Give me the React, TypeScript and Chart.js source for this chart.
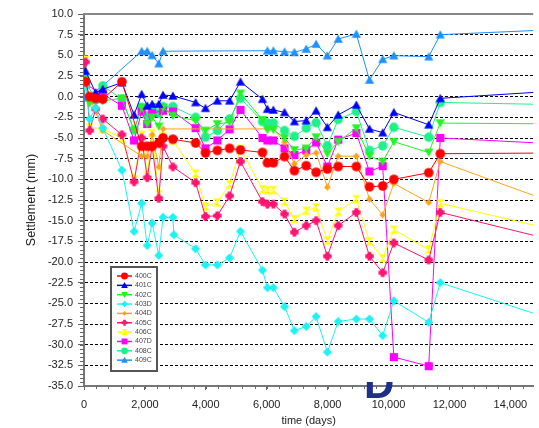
import React, { useEffect, useRef } from 'react';
import { Chart, registerables } from 'chart.js';

Chart.register(...registerables);

// ---------------- data ----------------
const seriesNames = ['400C', '401C', '402C', '403D', '404D', '405C', '406C', '407D', '408C', '409C'];

// survey dates (days); last entry lies beyond the visible axis (lines run off the right edge)
const dates = [50, 185, 380, 616, 1245, 1644, 1894, 2076, 2238, 2455, 2595, 2919, 2950, 3665, 3989, 4378, 4781, 5137, 5861, 6023, 6217, 6584, 6908, 7297, 7622, 7991, 8348, 8942, 9373, 9808, 10174, 11319, 11699, 16000];

const v400C = [1.8, 0.0, -0.2, -0.3, 1.8, null, -6.0, -6.0, -6.0, -5.6, -5.0, -5.15, null, -5.6, -6.8, -6.5, -6.25, -6.45, -6.75, -8.0, -8.0, -7.25, -8.95, -8.35, -9.15, -8.75, -8.45, -8.45, -10.9, -10.8, -10.0, -9.2, -6.9, -6.8];
const v401C = [3.1, null, 0.5, 0.9, 1.7, -2.2, 0.3, -1.1, -0.9, -0.9, 0.2, 0.1, null, -0.7, -1.4, -0.5, -0.5, 1.8, -0.3, -1.5, -1.6, -1.9, -3.0, -2.9, -1.7, -3.7, -2.2, -1.0, -3.9, -4.35, -1.9, -3.4, -0.2, 0.8];
const v402C = [2.2, -0.8, null, -0.5, -0.2, -4.1, -1.3, -3.3, -2.5, -3.6, -1.3, -2.3, null, -2.9, -4.1, -3.3, -3.1, 0.4, -2.8, -4.0, -4.0, -5.0, -6.45, -6.25, -4.9, -6.9, -5.45, -3.8, -7.2, -7.85, -5.45, -6.75, -3.2, -3.3];
const v403D = [1.2, -2.7, -1.4, -3.8, -8.9, -16.3, -12.9, -18.0, -15.3, -19.2, -14.6, -14.6, -16.7, -18.4, -20.35, -20.35, -19.5, -16.3, -21.0, -23.1, -23.1, -25.4, -28.3, -27.8, -26.6, -30.9, -27.2, -26.9, -26.9, -28.9, -24.7, -27.3, -22.5, -27.7];
const v404D = [1.3, null, null, -4.1, null, null, -7.2, -7.2, -4.6, -8.5, -3.9, null, null, null, null, null, null, null, null, -3.9, -3.9, -5.5, -8.1, -7.05, -6.8, -10.95, -7.2, -7.2, -12.4, -14.3, -10.5, -12.8, -7.85, -13.6];
const v405C = [4.2, -4.1, -1.5, -2.7, -4.6, -10.3, -5.0, -9.8, -6.0, -12.3, -6.0, -8.5, null, -10.4, -14.5, -14.4, -12.0, -7.85, -12.7, -13.0, -13.0, -14.2, -16.4, -15.6, -15.0, -19.3, -15.6, -14.0, -19.3, -21.3, -17.7, -19.75, -14.0, -17.9];
const v406C = [4.5, -3.7, null, -3.9, -5.0, -10.0, -4.6, -9.5, -4.4, -11.8, -4.8, -5.3, null, -9.3, -13.3, -12.8, -10.6, -6.3, -11.2, -11.3, -11.3, -12.7, -14.8, -13.8, -13.4, -17.4, -13.9, -12.4, -17.5, -19.55, -16.1, -18.5, -12.9, -16.6];
const v407D = [1.5, null, null, 0.3, -1.1, -5.3, -1.8, -3.3, -2.0, null, -1.7, -1.8, null, -3.8, -6.25, -5.3, -3.95, -1.6, -5.0, -5.3, -5.3, -6.25, -7.05, -6.5, -5.55, -8.45, -5.2, -4.4, -9.05, -8.4, -31.5, -32.6, -5.0, -5.8];
const v408C = [1.9, null, -0.4, 1.3, -0.3, -4.0, -1.3, -2.3, -1.5, -2.0, -1.2, -1.2, null, -2.5, -4.9, -4.1, -2.7, -0.2, -3.0, -3.2, -3.2, -4.1, -4.8, -3.8, -3.15, -5.95, -2.75, -1.8, -6.5, -5.95, -3.7, -4.9, -0.7, -1.0];
const v409C = [-0.1, null, null, 1.3, null, null, 5.5, 5.5, 5.0, 4.0, 5.5, null, null, null, null, null, null, null, null, 5.56, 5.56, 5.44, 5.37, 5.77, 6.37, 4.96, 6.98, 7.58, 2.02, 4.52, 4.96, 4.84, 7.5, 8.2];

const seriesValues = [v400C, v401C, v402C, v403D, v404D, v405C, v406C, v407D, v408C, v409C];

const xTickValues = [0, 2000, 4000, 6000, 8000, 10000, 12000, 14000];
const yTickValues = [-35, -32.5, -30, -27.5, -25, -22.5, -20, -17.5, -15, -12.5, -10, -7.5, -5, -2.5, 0, 2.5, 5, 7.5, 10];

const X_MIN = 0;
const X_MAX = 14750;
const X_MINOR = 400;
const Y_MIN = -35;
const Y_MAX = 10;
const Y_MINOR = 0.5;

// ---------------- styles ----------------
type Shape = 'circle' | 'triUp' | 'triDown' | 'diamond' | 'smallDiamond' | 'blob' | 'hourglass' | 'square';
const seriesStyles: { color: string; shape: Shape; r: number }[] = [
  { color: '#FF0000', shape: 'circle', r: 4.8 },
  { color: '#0000FF', shape: 'triUp', r: 4.6 },
  { color: '#22F522', shape: 'triDown', r: 4.6 },
  { color: '#1EF2F2', shape: 'diamond', r: 4.6 },
  { color: '#FFA31A', shape: 'smallDiamond', r: 3.4 },
  { color: '#FF1470', shape: 'blob', r: 4.2 },
  { color: '#FFFF00', shape: 'hourglass', r: 4.4 },
  { color: '#FF00FF', shape: 'square', r: 4.8 },
  { color: '#20F08A', shape: 'circle', r: 4.7 },
  { color: '#1E90FF', shape: 'triUp', r: 4.6 },
];

const FONT = "'Liberation Sans', Arial, sans-serif";

function drawShape(ctx: CanvasRenderingContext2D, shape: Shape, cx: number, cy: number, r: number, color: string) {
  ctx.fillStyle = color;
  ctx.beginPath();
  switch (shape) {
    case 'circle':
      ctx.arc(cx, cy, r, 0, Math.PI * 2);
      break;
    case 'triUp':
      ctx.moveTo(cx, cy - r);
      ctx.lineTo(cx + r, cy + r * 0.8);
      ctx.lineTo(cx - r, cy + r * 0.8);
      ctx.closePath();
      break;
    case 'triDown':
      ctx.moveTo(cx, cy + r);
      ctx.lineTo(cx + r, cy - r * 0.8);
      ctx.lineTo(cx - r, cy - r * 0.8);
      ctx.closePath();
      break;
    case 'square':
      ctx.rect(cx - r * 0.85, cy - r * 0.85, r * 1.7, r * 1.7);
      break;
    case 'diamond':
    case 'smallDiamond':
      ctx.moveTo(cx, cy - r);
      ctx.lineTo(cx + r, cy);
      ctx.lineTo(cx, cy + r);
      ctx.lineTo(cx - r, cy);
      ctx.closePath();
      ctx.rect(cx - r * 0.5, cy - r * 0.5, r, r);
      break;
    case 'blob':
      ctx.rect(cx - r, cy - r * 0.45, 2 * r, 0.9 * r);
      ctx.rect(cx - r * 0.45, cy - r, 0.9 * r, 2 * r);
      ctx.moveTo(cx + r * 0.75, cy);
      ctx.arc(cx, cy, r * 0.75, 0, Math.PI * 2);
      break;
    case 'hourglass':
      ctx.moveTo(cx - r, cy - r * 0.9);
      ctx.lineTo(cx + r, cy - r * 0.9);
      ctx.lineTo(cx, cy);
      ctx.closePath();
      ctx.moveTo(cx - r, cy + r * 0.9);
      ctx.lineTo(cx + r, cy + r * 0.9);
      ctx.lineTo(cx, cy);
      ctx.closePath();
      break;
  }
  ctx.fill();
}

function makeMarker(shape: Shape, color: string, r: number): HTMLCanvasElement {
  const c = document.createElement('canvas');
  const size = Math.ceil(2 * r + 2);
  c.width = size;
  c.height = size;
  const ctx = c.getContext('2d')!;
  drawShape(ctx, shape, size / 2, size / 2, r, color);
  return c;
}

const extrasPlugin = {
  id: 'extras',
  afterDraw(chart: any) {
    const { ctx, chartArea: a, scales } = chart;
    const x = scales.x;
    const y = scales.y;
    ctx.save();
    // minor ticks on y (outside, left)
    ctx.strokeStyle = '#666';
    ctx.lineWidth = 1;
    for (let v = Y_MIN; v <= Y_MAX + 1e-6; v += Y_MINOR) {
      const py = Math.round(y.getPixelForValue(v)) + 0.5;
      ctx.beginPath();
      ctx.moveTo(a.left - 4, py);
      ctx.lineTo(a.left, py);
      ctx.stroke();
    }
    // minor ticks on x (below)
    for (let d = X_MIN; d <= X_MAX; d += X_MINOR) {
      const px = Math.round(x.getPixelForValue(d)) + 0.5;
      ctx.beginPath();
      ctx.moveTo(px, a.bottom);
      ctx.lineTo(px, a.bottom + 3);
      ctx.stroke();
    }
    // top frame line
    ctx.strokeStyle = '#888';
    ctx.lineWidth = 2;
    ctx.beginPath();
    ctx.moveTo(a.left - 1, a.top);
    ctx.lineTo(a.right, a.top);
    ctx.stroke();

    // stray clipped "D" glyph below the axis
    ctx.save();
    ctx.beginPath();
    ctx.rect(0, a.bottom - 4, chart.width, chart.height - a.bottom + 4);
    ctx.clip();
    ctx.fillStyle = '#1D2E8F';
    ctx.font = `bold 42px ${FONT}`;
    ctx.textBaseline = 'alphabetic';
    ctx.textAlign = 'left';
    ctx.fillText('D', a.left + 280, a.bottom + 12);
    ctx.restore();

    // legend box
    const bx = a.left + 27;
    const by = a.top + 253;
    const bw = 46;
    const bh = 104;
    ctx.fillStyle = '#ffffff';
    ctx.fillRect(bx, by, bw, bh);
    ctx.strokeStyle = '#555';
    ctx.lineWidth = 2;
    ctx.strokeRect(bx, by, bw, bh);
    ctx.font = `7px ${FONT}`;
    ctx.textBaseline = 'middle';
    ctx.textAlign = 'left';
    seriesNames.forEach((name, i) => {
      const st = seriesStyles[i];
      const ly = by + 9 + i * 9.35;
      ctx.strokeStyle = st.color;
      ctx.lineWidth = 1.5;
      ctx.beginPath();
      ctx.moveTo(bx + 6, ly);
      ctx.lineTo(bx + 21, ly);
      ctx.stroke();
      drawShape(ctx, st.shape, bx + 13.5, ly, st.r * 0.72, st.color);
      ctx.fillStyle = '#444';
      ctx.fillText(name, bx + 24, ly);
    });
    ctx.restore();
  },
};

export default function App() {
  const ref = useRef<HTMLCanvasElement | null>(null);

  useEffect(() => {
    const canvas = ref.current;
    if (!canvas) return;
    const datasets = seriesNames.map((name, i) => {
      const st = seriesStyles[i];
      const vals = seriesValues[i];
      const data = dates
        .map((d, k) => ({ x: d, y: vals[k] }))
        .filter((p) => p.y !== null && p.y !== undefined);
      return {
        label: name,
        data,
        borderColor: st.color,
        backgroundColor: st.color,
        borderWidth: 1,
        pointStyle: makeMarker(st.shape, st.color, st.r),
        pointRadius: st.r,
        pointHoverRadius: st.r,
        showLine: true,
        fill: false,
        tension: 0,
      };
    });

    const chart = new Chart(canvas, {
      type: 'line',
      data: { datasets } as any,
      options: {
        animation: false,
        responsive: false,
        devicePixelRatio: 1,
        layout: { padding: { left: 20, top: 14, right: 0, bottom: 0 } },
        plugins: { legend: { display: false }, tooltip: { enabled: false } },
        events: [],
        scales: {
          x: {
            type: 'linear',
            min: X_MIN,
            max: X_MAX,
            afterBuildTicks(s: any) {
              s.ticks = xTickValues.map((v) => ({ value: v }));
            },
            afterFit(s: any) {
              s.height = 42;
              s.paddingLeft = 0;
              s.paddingRight = 0;
            },
            ticks: {
              autoSkip: false,
              maxRotation: 0,
              padding: 8,
              color: '#222',
              font: { size: 11, family: FONT },
              callback: (v: any) => Number(v).toLocaleString('en-US'),
            },
            grid: {
              display: true,
              drawOnChartArea: false,
              drawTicks: true,
              tickLength: 4,
              tickColor: '#666',
              tickWidth: 1,
            },
            border: { display: true, color: '#777', width: 2 },
            title: {
              display: true,
              text: 'time (days)',
              color: '#222',
              font: { size: 11, family: FONT },
              padding: { top: 0, bottom: 0 },
            },
          },
          y: {
            type: 'linear',
            min: Y_MIN,
            max: Y_MAX,
            afterBuildTicks(s: any) {
              s.ticks = yTickValues.map((v) => ({ value: v }));
            },
            afterFit(s: any) {
              s.width = 64;
              s.paddingTop = 0;
              s.paddingBottom = 0;
            },
            ticks: {
              autoSkip: false,
              padding: 5,
              color: '#222',
              font: { size: 11, family: FONT },
              callback: (v: any) => Number(v).toFixed(1),
            },
            grid: {
              display: true,
              drawOnChartArea: true,
              drawTicks: true,
              tickLength: 6,
              tickColor: '#666',
              tickWidth: 1,
              lineWidth: 1,
              color: (c: any) =>
                c.tick && (c.tick.value === Y_MIN || c.tick.value === Y_MAX) ? 'rgba(0,0,0,0)' : '#000',
            },
            border: { display: true, color: '#777', width: 2, dash: [3, 2] },
            title: {
              display: true,
              text: 'Settlement (mm)',
              color: '#222',
              font: { size: 12.5, family: FONT },
              padding: { top: 4, bottom: 0 },
            },
          },
        },
      } as any,
      plugins: [extrasPlugin],
    });
    return () => chart.destroy();
  }, []);

  return (
    <div style={{ position: 'absolute', left: 0, top: 0, width: 539, height: 428, background: '#fff' }}>
      <canvas ref={ref} width={539} height={428} style={{ display: 'block' }} />
    </div>
  );
}
